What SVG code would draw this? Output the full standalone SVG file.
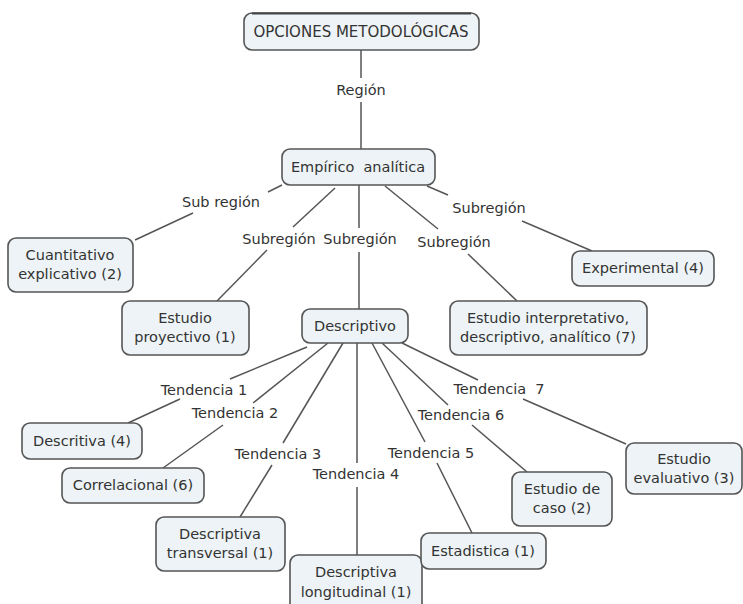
<svg xmlns="http://www.w3.org/2000/svg" width="743" height="604" viewBox="0 0 743 604">
<style>
.n{fill:#edf3f6;stroke:#555;stroke-width:1.6}
.t{font-family:"DejaVu Sans",Verdana,sans-serif;font-size:14.5px;fill:#333;text-anchor:middle}
.c line{stroke:#555;stroke-width:1.5}
</style>
<rect width="743" height="604" fill="#fff"/>
<g class="c" id="connectors">
<line x1="361" y1="50" x2="361" y2="78"/><line x1="361" y1="102" x2="361" y2="149"/>
<line x1="282" y1="185" x2="268" y2="192"/><line x1="193" y1="213" x2="135" y2="240"/>
<line x1="335" y1="188" x2="293" y2="227"/><line x1="267" y1="250" x2="217" y2="301"/>
<line x1="359" y1="185" x2="359" y2="228"/><line x1="359" y1="252" x2="359" y2="309"/>
<line x1="385" y1="186" x2="438" y2="229"/><line x1="468" y1="254" x2="517" y2="301"/>
<line x1="427" y1="186" x2="448" y2="195"/><line x1="522" y1="221" x2="592" y2="251"/>
<line x1="307" y1="347" x2="230" y2="379"/><line x1="180" y1="399" x2="128" y2="423"/>
<line x1="328" y1="343" x2="253" y2="403"/><line x1="223" y1="425" x2="163" y2="468"/>
<line x1="343" y1="343" x2="283" y2="443"/><line x1="272" y1="465" x2="240" y2="517"/>
<line x1="357" y1="343" x2="357" y2="463"/><line x1="357" y1="487" x2="357" y2="555"/>
<line x1="372" y1="343" x2="425" y2="442"/><line x1="437" y1="463" x2="472" y2="533"/>
<line x1="382" y1="343" x2="448" y2="405"/><line x1="472" y1="425" x2="527" y2="472"/>
<line x1="402" y1="343" x2="478" y2="380"/><line x1="523" y1="399" x2="626" y2="444"/>
</g>
<g id="labels">
<text class="t" x="361" y="95">Región</text>
<text class="t" x="221" y="207">Sub región</text>
<text class="t" x="279" y="244">Subregión</text>
<text class="t" x="360" y="244">Subregión</text>
<text class="t" x="454" y="247">Subregión</text>
<text class="t" x="489" y="213">Subregión</text>
<text class="t" x="204" y="395">Tendencia 1</text>
<text class="t" x="235" y="418">Tendencia 2</text>
<text class="t" x="278" y="459">Tendencia 3</text>
<text class="t" x="356" y="479">Tendencia 4</text>
<text class="t" x="431" y="458">Tendencia 5</text>
<text class="t" x="461" y="420">Tendencia 6</text>
<text class="t" x="499" y="394" xml:space="preserve">Tendencia  7</text>
</g>
<g id="n-opciones"><rect class="n" x="244" y="13" width="235" height="37" rx="8"/><line x1="252" y1="13.5" x2="471" y2="13.5" stroke="#444" stroke-width="2"/><text class="t" x="361" y="37" style="font-size:15px">OPCIONES METODOLÓGICAS</text></g>
<g id="n-empirico"><rect class="n" x="282" y="149" width="153" height="36" rx="8"/><text class="t" x="358" y="172" xml:space="preserve">Empírico  analítica</text></g>
<g id="n-cuantitativo"><rect class="n" x="8" y="238" width="125" height="54" rx="8"/><text class="t" x="70" y="260">Cuantitativo</text><text class="t" x="70" y="279">explicativo (2)</text></g>
<g id="n-proyectivo"><rect class="n" x="122" y="301" width="127" height="54" rx="8"/><text class="t" x="185" y="323">Estudio</text><text class="t" x="185" y="342">proyectivo (1)</text></g>
<g id="n-descriptivo"><rect class="n" x="302" y="309" width="106" height="34" rx="8"/><text class="t" x="355" y="331">Descriptivo</text></g>
<g id="n-interpretativo"><rect class="n" x="450" y="301" width="197" height="54" rx="8"/><text class="t" x="548" y="323">Estudio interpretativo,</text><text class="t" x="548" y="342">descriptivo, analítico (7)</text></g>
<g id="n-experimental"><rect class="n" x="572" y="251" width="142" height="35" rx="8"/><text class="t" x="643" y="273">Experimental (4)</text></g>
<g id="n-descritiva"><rect class="n" x="22" y="423" width="120" height="36" rx="8"/><text class="t" x="82" y="446">Descritiva (4)</text></g>
<g id="n-correlacional"><rect class="n" x="62" y="468" width="142" height="35" rx="8"/><text class="t" x="133" y="490">Correlacional (6)</text></g>
<g id="n-transversal"><rect class="n" x="156" y="517" width="129" height="54" rx="8"/><text class="t" x="220" y="539">Descriptiva</text><text class="t" x="220" y="558">transversal (1)</text></g>
<g id="n-longitudinal"><rect class="n" x="290" y="555" width="132" height="60" rx="8"/><text class="t" x="356" y="577">Descriptiva</text><text class="t" x="356" y="597">longitudinal (1)</text></g>
<g id="n-estadistica"><rect class="n" x="421" y="533" width="125" height="36" rx="8"/><text class="t" x="483" y="556">Estadistica (1)</text></g>
<g id="n-caso"><rect class="n" x="512" y="472" width="100" height="54" rx="8"/><text class="t" x="562" y="494">Estudio de</text><text class="t" x="562" y="513">caso (2)</text></g>
<g id="n-evaluativo"><rect class="n" x="626" y="443" width="116" height="51" rx="8"/><text class="t" x="684" y="464">Estudio</text><text class="t" x="684" y="483">evaluativo (3)</text></g>
</svg>
